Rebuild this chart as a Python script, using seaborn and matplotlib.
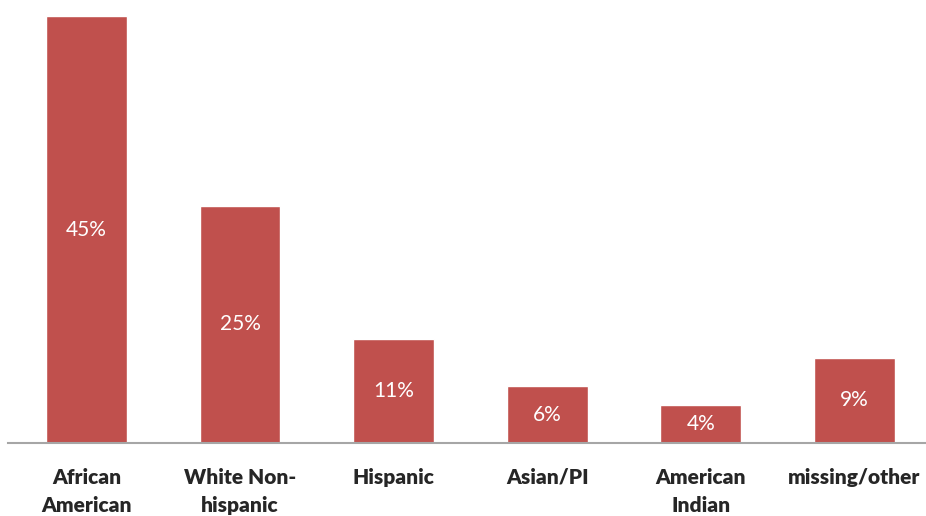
import matplotlib
matplotlib.use("Agg")
from matplotlib import pyplot as plt
import seaborn as sns
import pandas as pd

categories = ["African\nAmerican", "White Non-\nhispanic", "Hispanic", "Asian/PI", "American\nIndian", "missing/other"]
shares = [45, 25, 11, 6, 4, 9]
value_labels = ["45%", "25%", "11%", "6%", "4%", "9%"]

df = pd.DataFrame({"group": categories, "share": shares})

sns.set_style("white")
plt.rcParams["font.family"] = ["Lato", "DejaVu Sans"]

fig = plt.figure(figsize=(9.26, 5.16), dpi=100)
ax = fig.add_axes([8 / 926, 73 / 516, 918 / 926, 427 / 516])
sns.barplot(data=df, x="group", y="share", color="#C0504D", width=0.527, saturation=1, ax=ax)

ax.bar_label(ax.containers[0], labels=value_labels, label_type="center", color="white", fontsize=15)

ax.set_xlim(-0.511, 5.467)
ax.set_ylim(0, 45)
ax.set_xlabel("")
ax.set_ylabel("")
ax.set_yticks([])
for side in ["left", "right", "top"]:
    ax.spines[side].set_visible(False)
ax.spines["bottom"].set_color("#A6A6A6")
ax.spines["bottom"].set_linewidth(1.5)
ax.tick_params(axis="x", length=0, pad=18)
for lbl in ax.get_xticklabels():
    lbl.set_fontweight("heavy")
    lbl.set_fontsize(15)
    lbl.set_va("top")
    lbl.set_linespacing(1.55)

fig.savefig("out.png", dpi=100)
